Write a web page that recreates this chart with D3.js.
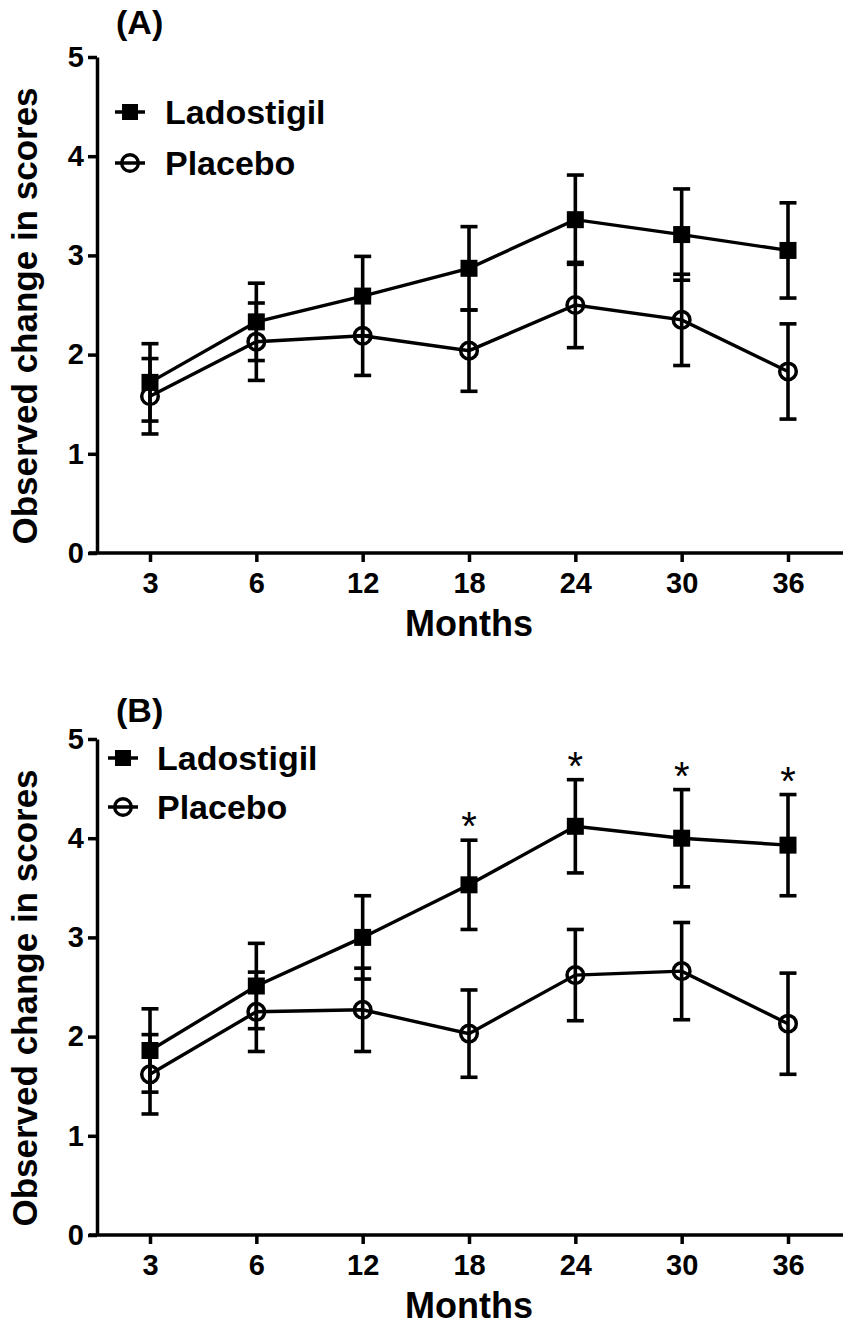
<!DOCTYPE html>
<html>
<head>
<meta charset="utf-8">
<script src="https://cdn.jsdelivr.net/npm/d3@7"></script>
<style>
  body { margin: 0; background: #fff; }
  svg { display: block; font-family: "Liberation Sans", Arial, sans-serif; }
</style>
</head>
<body>
<svg id="chart" width="850" height="1325"></svg>
<script>
// Months on the x axis
const months = ["3", "6", "12", "18", "24", "30", "36"];
const yTicks = [0, 1, 2, 3, 4, 5];

// Panel A – mean change and error
const ladA    = [1.72, 2.33, 2.59, 2.87, 3.36, 3.21, 3.05];
const ladAErr = [0.39, 0.39, 0.40, 0.42, 0.45, 0.46, 0.48];
const plaA    = [1.58, 2.13, 2.19, 2.04, 2.50, 2.35, 1.83];
const plaAErr = [0.38, 0.39, 0.40, 0.41, 0.43, 0.46, 0.48];

// Panel B
const ladB    = [1.86, 2.51, 3.00, 3.53, 4.12, 4.00, 3.93];
const ladBErr = [0.42, 0.43, 0.42, 0.45, 0.47, 0.49, 0.51];
const plaB    = [1.62, 2.25, 2.27, 2.03, 2.62, 2.66, 2.13];
const plaBErr = [0.40, 0.40, 0.42, 0.44, 0.46, 0.49, 0.51];
const sigB    = ["18", "24", "30", "36"];   // marked with *

const svg = d3.select("#chart");

const x = d3.scalePoint().domain(months).range([150, 788]);
const y = d3.scaleLinear().domain([0, 5]).range([553, 57]);

function drawPanel(top, cfg) {
  const g = svg.append("g").attr("transform", `translate(0,${top})`);
  const lad = months.map((m, i) => ({ m, v: cfg.lad[i], e: cfg.ladErr[i] }));
  const pla = months.map((m, i) => ({ m, v: cfg.pla[i], e: cfg.plaErr[i] }));

  // y axis
  const ya = g.append("g")
    .attr("transform", "translate(97,0)")
    .call(d3.axisLeft(y).tickValues(yTicks).tickFormat(d3.format("d"))
      .tickSize(9).tickSizeOuter(0).tickPadding(4));
  ya.select(".domain").attr("stroke-width", 3.5);
  ya.selectAll(".tick line").attr("stroke-width", 3.5);
  ya.selectAll(".tick text")
    .attr("font-size", "29px").attr("font-weight", "bold").attr("fill", "#000")
    .attr("font-family", "Liberation Sans, Arial, sans-serif");

  // x axis
  const xa = g.append("g")
    .attr("transform", `translate(0,${y(0)})`)
    .call(d3.axisBottom(x).tickSize(9).tickSizeOuter(0));
  xa.select(".domain").remove();
  xa.selectAll(".tick line").attr("stroke-width", 3.5);
  xa.selectAll(".tick text")
    .attr("y", 40).attr("dy", null)
    .attr("font-size", "29px").attr("font-weight", "bold").attr("fill", "#000")
    .attr("font-family", "Liberation Sans, Arial, sans-serif");
  g.append("line")
    .attr("x1", 89).attr("x2", 843)
    .attr("y1", y(0)).attr("y2", y(0))
    .attr("stroke", "#000").attr("stroke-width", 3.5);

  // axis titles
  g.append("text")
    .attr("x", 469).attr("y", 636)
    .attr("text-anchor", "middle")
    .attr("font-size", "36px").attr("font-weight", "bold")
    .text("Months");
  g.append("text")
    .attr("transform", "rotate(-90)")
    .attr("x", -316).attr("y", 37)
    .attr("text-anchor", "middle")
    .attr("font-size", "35px").attr("font-weight", "bold")
    .text("Observed change in scores");

  // panel letter
  g.append("text")
    .attr("x", 116).attr("y", cfg.letterY)
    .attr("font-size", "34px").attr("font-weight", "bold")
    .text(cfg.letter);

  const line = d3.line().x(d => x(d.m)).y(d => y(d.v));

  [lad, pla].forEach(data => {
    g.append("path")
      .datum(data)
      .attr("d", line)
      .attr("fill", "none")
      .attr("stroke", "#000")
      .attr("stroke-width", 3.4);

    const eb = g.append("g").selectAll("g").data(data).join("g");
    eb.append("line")
      .attr("x1", d => x(d.m)).attr("x2", d => x(d.m))
      .attr("y1", d => y(d.v + d.e)).attr("y2", d => y(d.v - d.e))
      .attr("stroke", "#000").attr("stroke-width", 3.6);
    [1, -1].forEach(s => {
      eb.append("line")
        .attr("x1", d => x(d.m) - 8.5).attr("x2", d => x(d.m) + 8.5)
        .attr("y1", d => y(d.v + s * d.e)).attr("y2", d => y(d.v + s * d.e))
        .attr("stroke", "#000").attr("stroke-width", 3.6);
    });
  });

  // markers
  g.append("g").selectAll("rect").data(lad).join("rect")
    .attr("x", d => x(d.m) - 8.5).attr("y", d => y(d.v) - 8.5)
    .attr("width", 17).attr("height", 17)
    .attr("fill", "#000");
  g.append("g").selectAll("circle").data(pla).join("circle")
    .attr("cx", d => x(d.m)).attr("cy", d => y(d.v))
    .attr("r", 8.3)
    .attr("fill", "none").attr("stroke", "#000").attr("stroke-width", 3.5);

  // significance stars, centred ~14px above the upper cap
  g.append("g").selectAll("text").data(lad.filter(d => cfg.sig.includes(d.m))).join("text")
    .attr("x", d => x(d.m)).attr("y", d => y(d.v + d.e))
    .attr("text-anchor", "middle")
    .attr("font-size", "40px")
    .text("*")
    .each(function(d) {
      const b = this.getBBox();
      const target = y(d.v + d.e) - 14;
      d3.select(this).attr("y", y(d.v + d.e) + (target - (b.y + b.height / 2)));
    });

  // legend
  const leg = [
    { name: "Ladostigil", type: "square", ry: cfg.legY[0] },
    { name: "Placebo",    type: "circle", ry: cfg.legY[1] }
  ];
  const lg = g.append("g").selectAll("g").data(leg).join("g");
  lg.append("line")
    .attr("x1", cfg.legX - 15).attr("x2", cfg.legX + 15)
    .attr("y1", d => d.ry).attr("y2", d => d.ry)
    .attr("stroke", "#000").attr("stroke-width", 3.5);
  lg.filter(d => d.type === "square").append("rect")
    .attr("x", cfg.legX - 8).attr("y", d => d.ry - 8)
    .attr("width", 16).attr("height", 16).attr("fill", "#000");
  lg.filter(d => d.type === "circle").append("circle")
    .attr("cx", cfg.legX).attr("cy", d => d.ry).attr("r", 8.3)
    .attr("fill", "none").attr("stroke", "#000").attr("stroke-width", 3.4);
  lg.append("text")
    .attr("x", cfg.legText).attr("y", d => d.ry).attr("dy", "0.35em")
    .attr("font-size", "34px").attr("font-weight", "bold")
    .text(d => d.name);
}

drawPanel(0, {
  letter: "(A)", letterY: 34,
  lad: ladA, ladErr: ladAErr, pla: plaA, plaErr: plaAErr, sig: [],
  legX: 130, legText: 165, legY: [112, 163]
});
drawPanel(682, {
  letter: "(B)", letterY: 40,
  lad: ladB, ladErr: ladBErr, pla: plaB, plaErr: plaBErr, sig: sigB,
  legX: 123, legText: 157, legY: [76, 125]
});
</script>
</body>
</html>
